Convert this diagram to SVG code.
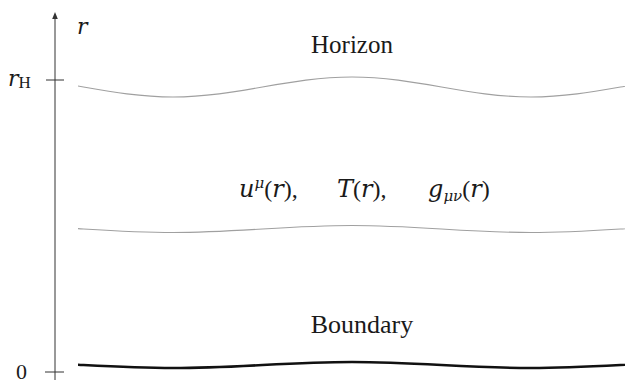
<svg xmlns="http://www.w3.org/2000/svg" width="625" height="383" viewBox="0 0 625 383">
<style>
.t{fill:#1a1a1a}
.i{font-style:italic;font-family:"DejaVu Serif",serif}
.thin{fill:none;stroke:#a0a0a0;stroke-width:1.1}
.thick{fill:none;stroke:#111;stroke-width:2.6}
.ax{stroke:#333;stroke-width:1;fill:none}
</style>
<defs>
<clipPath id="cp"><rect x="78" y="0" width="547" height="383"/></clipPath>
</defs>
<rect width="625" height="383" fill="#fff"/>
<g id="axis" font-family="Liberation Serif, serif">
<line class="ax" x1="55" y1="380" x2="55" y2="16"/>
<path d="M55,12 L52.2,19 L57.8,19 Z" fill="#333"/>
<line class="ax" x1="46" y1="80" x2="64" y2="80"/>
<line class="ax" x1="45" y1="372" x2="64" y2="372"/>
<text class="t i" x="77" y="34" font-size="22">r</text>
<text class="t" x="8" y="86" font-size="22"><tspan class="i">r</tspan><tspan font-size="17" dy="2">H</tspan></text>
<text class="t" x="16" y="379" font-size="22">0</text>
</g>
<g id="connectors" clip-path="url(#cp)">
<path id="horizon-line" class="thin" d="M-6,77 C58.4,77 108.6,97 173,97 C237.4,97 287.6,77 352,77 C416.4,77 466.6,97 531,97 C595.4,97 645.6,77 710,77"/>
<path id="mid-line" class="thin" d="M-6,225.5 C58.4,225.5 108.6,232.5 173,232.5 C237.4,232.5 287.6,225.5 352,225.5 C416.4,225.5 466.6,232.5 531,232.5 C595.4,232.5 645.6,225.5 710,225.5"/>
<path id="boundary-line" class="thick" d="M-6,362 C58.4,362 108.6,368 173,368 C237.4,368 287.6,362 352,362 C416.4,362 466.6,368 531,368 C595.4,368 645.6,362 710,362"/>
</g>
<g id="horizon" font-family="Liberation Serif, serif">
<text class="t" x="352" y="53" font-size="25" text-anchor="middle">Horizon</text>
</g>
<g id="fields" font-family="Liberation Serif, serif">
<text class="t" y="197" font-size="24"><tspan class="i" x="239">u</tspan><tspan class="i" font-size="15" dy="-9">μ</tspan><tspan dy="9">(</tspan><tspan class="i">r</tspan><tspan>),</tspan></text>
<text class="t" y="197" font-size="24"><tspan class="i" x="337">T</tspan><tspan>(</tspan><tspan class="i">r</tspan><tspan>),</tspan></text>
<text class="t" y="197" font-size="24"><tspan class="i" x="428">g</tspan><tspan class="i" font-size="15" dy="4">μν</tspan><tspan dy="-4">(</tspan><tspan class="i">r</tspan><tspan>)</tspan></text>
</g>
<g id="boundary" font-family="Liberation Serif, serif">
<text class="t" x="362" y="333" font-size="26" text-anchor="middle">Boundary</text>
</g>
</svg>
